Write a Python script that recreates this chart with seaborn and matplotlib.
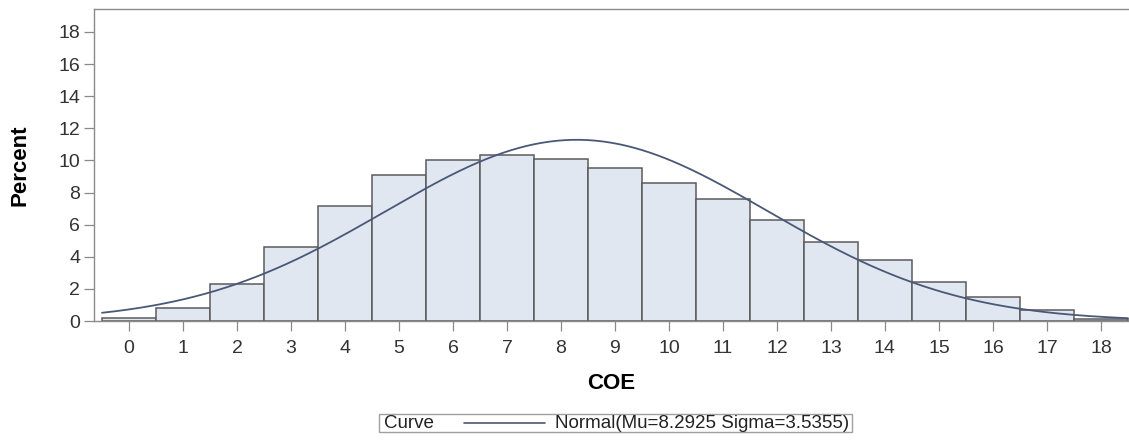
import numpy as np
import pandas as pd
import seaborn as sns
import matplotlib.pyplot as plt
from matplotlib.lines import Line2D
from matplotlib.patches import Rectangle

# histogram of COE scores, percent per bin
coe = list(range(0, 19))
pct = [0.17, 0.79, 2.30, 4.60, 7.15, 9.08, 10.02, 10.35, 10.10, 9.54,
       8.61, 7.57, 6.28, 4.93, 3.81, 2.45, 1.51, 0.70, 0.12]

# fitted normal, parameters as printed in the legend
mu = 8.2925
sigma = 3.5355
bin_width = 1.0

yticks = list(range(0, 20, 2))

sns.set_style('white')
plt.rcParams['font.family'] = ['Liberation Sans', 'DejaVu Sans']

bar_fill = '#e1e7f1'
bar_edge = '#5b5b5b'
curve_col = '#4a5878'
axis_col = '#8a8a8a'

fig = plt.figure(figsize=(11.29, 4.41), dpi=100)
W, H = 1129, 441
ax = fig.add_axes([94 / W, (H - 321) / H, (W - 94) / W, (321 - 8.5) / H])

df = pd.DataFrame({'COE': coe, 'Percent': pct})
sns.histplot(data=df, x='COE', weights='Percent', discrete=True, ax=ax,
             stat='count', facecolor=bar_fill, edgecolor=bar_edge,
             linewidth=1.1, alpha=1)

xs = np.linspace(-0.5, 18.5, 400)
ys = 100 * bin_width * np.exp(-0.5 * ((xs - mu) / sigma) ** 2) / (sigma * np.sqrt(2 * np.pi))
curve = pd.DataFrame({'x': xs, 'y': ys})
sns.lineplot(data=curve, x='x', y='y', ax=ax, color=curve_col, linewidth=1.3)

ax.set_xlim(-0.648, 18.52)
ax.set_ylim(0, 19.46)
ax.set_xticks(coe)
ax.set_yticks(yticks)
ax.tick_params(axis='both', which='major', length=7, width=0.9,
               color=axis_col, labelsize=14, labelcolor='#333333')
ax.tick_params(axis='x', pad=6.5)
ax.tick_params(axis='y', pad=3)
ax.tick_params(bottom=True, left=True)

for side in ['left', 'bottom', 'top']:
    ax.spines[side].set_color(axis_col)
    ax.spines[side].set_linewidth(1.0)
ax.spines['right'].set_visible(False)

ax.set_xlabel('COE', fontsize=16, fontweight='bold', color='black')
ax.set_ylabel('Percent', fontsize=16, fontweight='bold', color='black')
ax.xaxis.set_label_coords(0.5, -0.165)
ax.yaxis.set_label_coords(-0.061, 0.5)

# legend box under the chart
fig.patches.append(Rectangle((379 / W, 1 - 432 / H), (852 - 379) / W, 18 / H,
                             transform=fig.transFigure, facecolor='white',
                             edgecolor='#a0a0a0', linewidth=1.0))
fig.text(384 / W, 1 - 423.5 / H, 'Curve', fontsize=13.5, va='center', ha='left', color='#222222')
fig.lines.append(Line2D([464 / W, 545 / W], [1 - 423 / H, 1 - 423 / H],
                        transform=fig.transFigure, color=curve_col, linewidth=1.2))
fig.text(849 / W, 1 - 423.5 / H, 'Normal(Mu=%.4f Sigma=%.4f)' % (mu, sigma),
         fontsize=13.5, va='center', ha='right', color='#222222')

fig.savefig('out.png', dpi=100)
